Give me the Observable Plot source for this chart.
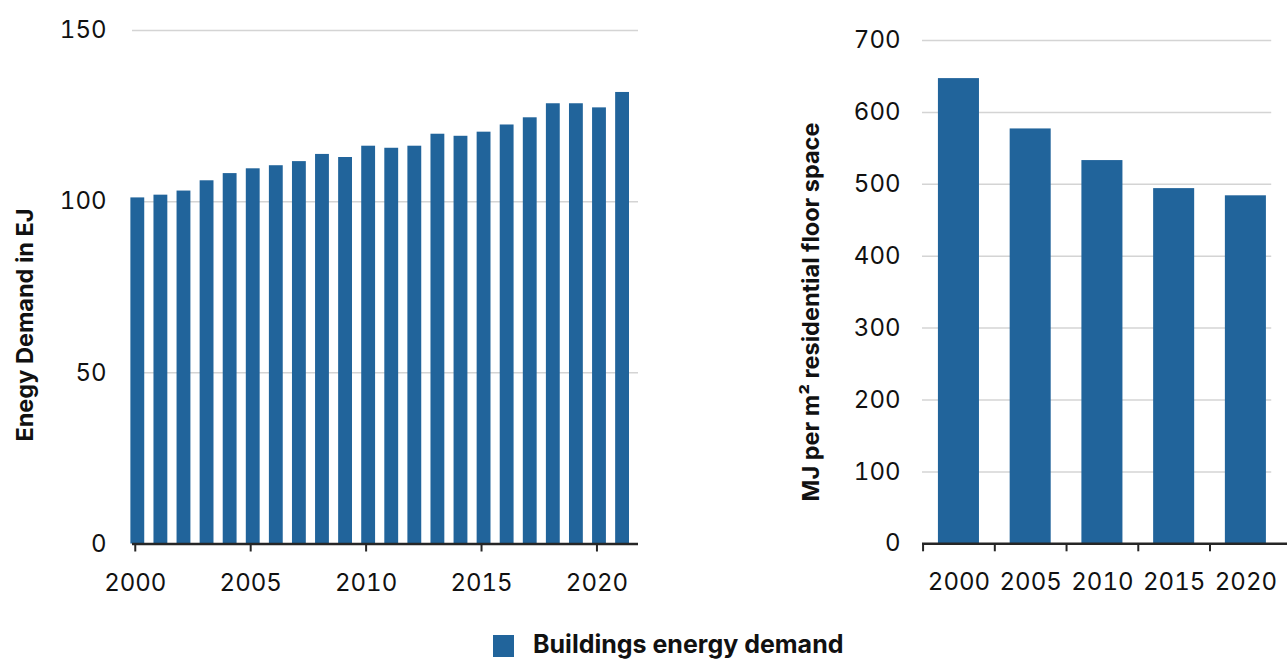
<!DOCTYPE html>
<html>
<head>
<meta charset="utf-8">
<script src="https://cdn.jsdelivr.net/npm/d3@7"></script>
<script src="https://cdn.jsdelivr.net/npm/@observablehq/plot@0.6"></script>
<style>
  html, body { margin: 0; padding: 0; background: #fff; overflow: hidden; }
  #page { position: relative; width: 1287px; height: 659px; overflow: hidden; font-family: Inter, Lato, sans-serif; color: #111; }
  .chart { position: absolute; top: 0; }
  .ytitle { position: absolute; white-space: nowrap; font-weight: 700; font-size: 23.5px; line-height: 24px; transform: translate(-50%, -50%) rotate(-90deg); }
  #legend { position: absolute; left: 493px; top: 632px; display: flex; align-items: flex-start; }
  #legend .sw { width: 21px; height: 22px; margin-top: 3px; background: #21649b; }
  #legend .lab { margin-left: 19px; font-weight: 700; font-size: 25px; line-height: 25px; white-space: nowrap; }
</style>
</head>
<body>
<div id="page">
  <div id="left" class="chart" style="left:0px"></div>
  <div id="right" class="chart" style="left:760px"></div>
  <div class="ytitle" style="left:25px; top:325px">Enegy Demand in EJ</div>
  <div class="ytitle" style="left:811px; top:312px">MJ per m² residential floor space</div>
  <div id="legend"><div class="sw"></div><div class="lab">Buildings energy demand</div></div>
</div>
<script>
// ---- Data ----
const years = [2000, 2001, 2002, 2003, 2004, 2005, 2006, 2007, 2008, 2009, 2010,
               2011, 2012, 2013, 2014, 2015, 2016, 2017, 2018, 2019, 2020, 2021];
const energyDemandEJ = [101.1, 101.9, 103.1, 106.1, 108.2, 109.6, 110.5, 111.7, 113.8, 112.9, 116.2,
                        115.6, 116.2, 119.7, 119.1, 120.3, 122.4, 124.5, 128.6, 128.6, 127.4, 131.9];
const leftYTicks = [0, 50, 100, 150];
const leftXTicks = [2000, 2005, 2010, 2015, 2020];

const intensityYears = [2000, 2005, 2010, 2015, 2020];
const intensityMJm2 = [647, 577, 533, 494, 484];
const rightYTicks = [0, 100, 200, 300, 400, 500, 600, 700];
const rightXBoundaries = [1997.5, 2002.5, 2007.5, 2012.5, 2017.5];

const seriesName = "Buildings energy demand";
const barColor = "#21649b";
const axisColor = "#262626";
const gridColor = "#d4d4d4";

const leftData = years.map((year, i) => ({year, value: energyDemandEJ[i]}));
const rightData = intensityYears.map((year, i) => ({year, value: intensityMJm2[i]}));

const fontStyle = {fontFamily: "Inter, Lato, sans-serif", fontSize: "24px", color: "#111", background: "transparent", overflow: "visible"};

// ---- Left chart ----
const left = Plot.plot({
  width: 660, height: 620,
  marginLeft: 132, marginRight: 22, marginTop: 30, marginBottom: 76.5,
  style: fontStyle,
  x: {type: "linear", domain: [1999.88, 2021.8]},
  y: {domain: [0, 150]},
  marks: [
    Plot.gridY(leftYTicks.filter(d => d > 0), {stroke: gridColor, strokeOpacity: 1, strokeWidth: 1.5}),
    Plot.rectY(leftData, {x1: d => d.year - 0.19, x2: d => d.year + 0.41, y: "value", fill: barColor}),
    Plot.ruleY([0], {stroke: axisColor, strokeWidth: 2.5}),
    Plot.axisY({ticks: leftYTicks, tickSize: 0, tickPadding: 26, fontSize: 24, label: null, tickFormat: d => String(d)}),
    Plot.axisX({ticks: leftXTicks, tickSize: 8, tickPadding: 21.5, fontSize: 24, stroke: axisColor, strokeWidth: 2, label: null, tickFormat: d => String(d)})
  ]
});
document.getElementById("left").appendChild(left);

// ---- Right chart ----
const right = Plot.plot({
  width: 527, height: 620,
  marginLeft: 162, marginRight: 0, marginTop: 40, marginBottom: 76.7,
  style: fontStyle,
  x: {type: "linear", domain: [1997.46, 2022.9]},
  y: {domain: [0, 700]},
  marks: [
    Plot.ruleY(rightYTicks.filter(d => d > 0), {x1: 1997.46, x2: 2021.8, stroke: gridColor, strokeWidth: 1.5}),
    Plot.rectY(rightData, {x1: d => d.year - 1.43, x2: d => d.year + 1.43, y: "value", fill: barColor}),
    Plot.ruleY([0], {stroke: axisColor, strokeWidth: 2.5}),
    Plot.axisY({ticks: rightYTicks, tickSize: 0, tickPadding: 22, fontSize: 24, label: null, tickFormat: d => String(d)}),
    Plot.axisX({ticks: rightXBoundaries, tickSize: 8, tickFormat: () => "", stroke: axisColor, strokeWidth: 2, label: null}),
    Plot.axisX({ticks: intensityYears, tickSize: 0, tickPadding: 29.5, fontSize: 24, label: null, tickFormat: d => String(d)})
  ]
});
document.getElementById("right").appendChild(right);
</script>
</body>
</html>
